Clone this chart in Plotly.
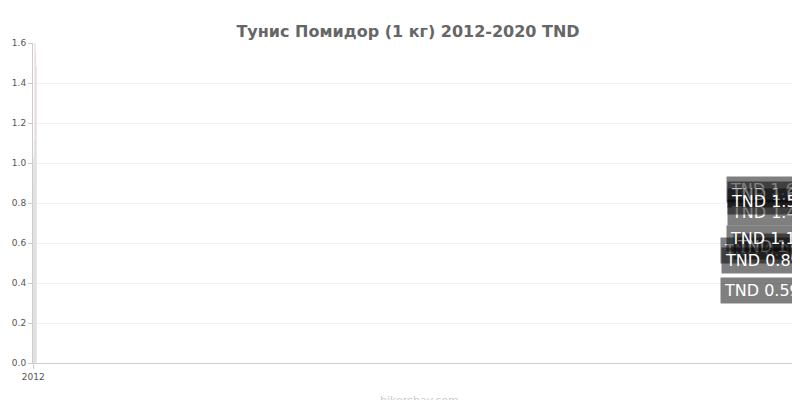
import plotly.graph_objects as go

years = ["2012","2013","2014","2015","2016","2017","2018","2019","2020"]
values = [0.59,0.99,1.03,1.11,0.89,1.60,1.37,1.55,1.48]
labels = ["TND 0.59","TND 0.99","TND 1","TND 1.1","TND 0.89","TND 1.6","TND 1.4","TND 1.6","TND 1.5"]
colors = ["#33dd33","#aadd33","#99dd33","#ccdd33","#88dd33","#dd3333","#ddaa33","#dd5533","#dd7733"]

fig = go.Figure(go.Bar(x=years, y=values, marker_color=colors, width=0.72))
for x, v, t in zip(years, values, labels):
    fig.add_annotation(x=x, y=v/2+0.07, text=t, showarrow=False,
                       font=dict(color="white", size=16, family="DejaVu Sans"),
                       bgcolor="rgba(0,0,0,0.5)", borderpad=3)
fig.add_annotation(x=0.5, y=-0.09, xref="paper", yref="paper", text="hikersbay.com",
                   showarrow=False, yanchor="top", font=dict(color="#cccccc", size=11))
fig.update_layout(
    width=800, height=400, margin=dict(l=25, r=3, t=35, b=45),
    plot_bgcolor="white", paper_bgcolor="white", showlegend=False,
    title=dict(text="<b>Тунис Помидор (1 кг) 2012-2020 TND</b>", x=0.5, y=0.955,
               font=dict(size=16, color="#666666", family="DejaVu Sans")),
    font=dict(family="DejaVu Sans", color="#555555", size=9),
)
fig.update_yaxes(range=[0, 1.6], dtick=0.2, tickformat=".1f", gridcolor="#f2f2f2",
                 showline=True, linecolor="#cccccc", ticks="outside", ticklen=4, tickcolor="#cccccc")
fig.update_xaxes(type="category", showline=True, linecolor="#cccccc", ticks="outside",
                 ticklen=5, tickcolor="#cccccc")
fig.write_html("out.html")
